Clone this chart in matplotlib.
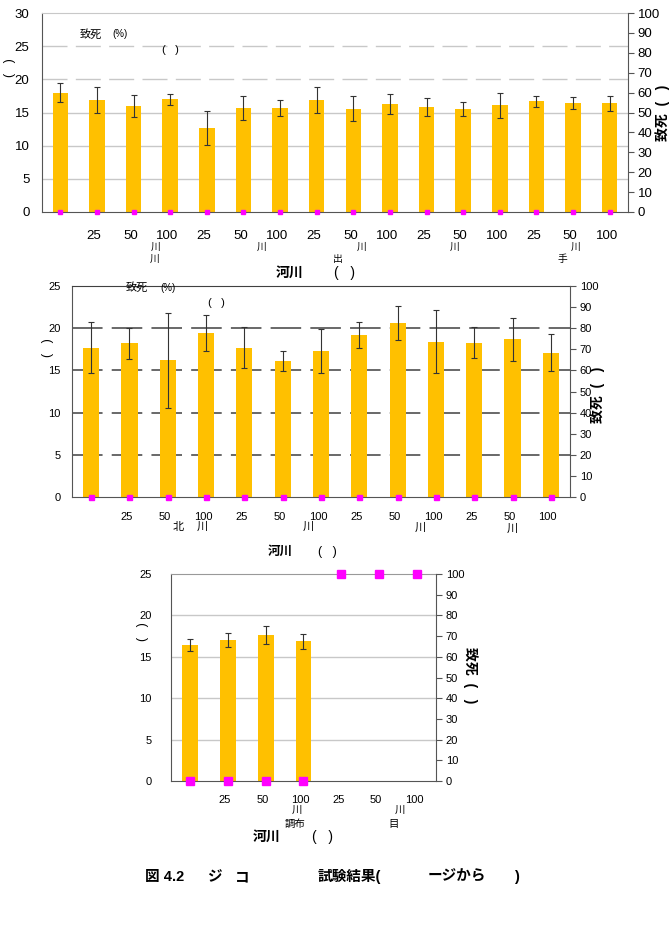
import numpy as np
import matplotlib
matplotlib.use("Agg")
import matplotlib.pyplot as plt

plt.rcParams['font.family'] = ['Liberation Sans', 'Noto Sans CJK JP', 'DejaVu Sans']

W, H = 672, 952
BAR = '#FFC000'
MAG = '#FF00FF'
nan = np.nan

# panel 1: 16 groups
p1_growth = [18.0, 16.9, 16.0, 17.0, 12.7, 15.7, 15.7, 16.9,
             15.6, 16.3, 15.8, 15.5, 16.1, 16.7, 16.5, 16.4]
p1_err = [1.4, 1.9, 1.65, 0.8, 2.6, 1.8, 1.2, 1.95,
          1.9, 1.55, 1.4, 1.05, 1.9, 0.8, 0.9, 1.15]
p1_mort = [0, 0, 0, 0, 0, 0, 0, 0, 0, 0, 0, 0, 0, 0, 0, 0]
p1_ticks = ['', '25', '50', '100', '25', '50', '100', '25', '50', '100',
            '25', '50', '100', '25', '50', '100']

# panel 2: 13 groups
p2_growth = [17.7, 18.2, 16.2, 19.4, 17.7, 16.1, 17.3, 19.2, 20.6, 18.4, 18.3, 18.7, 17.1]
p2_err = [3.0, 1.8, 5.65, 2.15, 2.4, 1.2, 2.55, 1.55, 2.0, 3.7, 1.8, 2.55, 2.2]
p2_mort = [0, 0, 0, 0, 0, 0, 0, 0, 0, 0, 0, 0, 0]
p2_ticks = ['', '25', '50', '100', '25', '50', '100', '25', '50', '100', '25', '50', '100']

# panel 3: 7 groups (last three all dead)
p3_growth = [16.4, 17.0, 17.6, 16.9, nan, nan, nan]
p3_err = [0.75, 0.85, 1.1, 0.9, nan, nan, nan]
p3_mort = [0, 0, 0, 0, 100, 100, 100]
p3_ticks = ['', '25', '50', '100', '25', '50', '100']

fig = plt.figure(figsize=(W / 100, H / 100), dpi=100)


def rect(l, t, r, b):
    return [l / W, 1 - b / H, (r - l) / W, (b - t) / H]


def put(x, y, s, **kw):
    kw.setdefault('ha', 'center')
    kw.setdefault('va', 'center')
    fig.text(x / W, 1 - y / H, s, **kw)


def panel(r, growth, err, mort, ticks, ymax, grid, top_col, fs, ms, lpad, xpad):
    ax = fig.add_axes(r)
    x = np.arange(len(growth))
    ax.bar(x, growth, width=0.42, color=BAR, zorder=2)
    ax.errorbar(x, growth, yerr=err, fmt='none', ecolor='#333333',
                elinewidth=0.8, capsize=2.5, capthick=0.8, zorder=3)
    ax.set_xlim(-0.5, len(growth) - 0.5)
    ax.set_ylim(0, ymax)
    ax.set_yticks(np.arange(0, ymax + 1, 5))
    for lv, st in grid:
        ax.axhline(lv, **st, zorder=1)
    ax.set_xticks(x - 0.08)
    ax.set_xticklabels(ticks)
    ax.tick_params(axis='x', length=0, labelsize=fs, pad=xpad)
    ax.tick_params(axis='y', length=0, labelsize=fs, pad=lpad)
    for s in ('left', 'bottom'):
        ax.spines[s].set_color('#555555')
    ax.spines['top'].set_color(top_col)
    ax.spines['right'].set_visible(False)

    ax2 = ax.twinx()
    ax2.set_ylim(0, 100)
    ax2.set_yticks(np.arange(0, 101, 10))
    ax2.plot(x, mort, 's', color=MAG, ms=ms, mec=MAG, clip_on=False, zorder=5)
    ax2.tick_params(axis='y', length=4, direction='out', labelsize=fs, pad=3, color='#555555')
    ax2.spines['right'].set_color('#555555')
    for s in ('left', 'top', 'bottom'):
        ax2.spines[s].set_visible(False)
    return ax, ax2


light = '#c8c8c8'
solid_l = dict(color=light, lw=1.0)
dash_l = dict(color=light, lw=1.0, dashes=(18, 6))
dash_d = dict(color='#404040', lw=1.1, dashes=(20, 6))

# ---- panel 1
panel(rect(42, 13, 628, 212), p1_growth, p1_err, p1_mort, p1_ticks, 30,
      [(5, solid_l), (10, solid_l), (15, solid_l), (20, dash_l), (25, dash_l)],
      light, 9.5, 3.2, 9, 13)
put(91, 34, '致死', fontsize=8)
put(120, 34, '(%)', fontsize=7)
put(170, 50, '(   )', fontsize=8)
put(10, 68, '(   )', fontsize=9, rotation=90)
put(663, 113, '致死  (   )', fontsize=10, rotation=90, fontweight='bold')
for s, x, y in [('川', 156, 247), ('川', 155, 259), ('川', 262, 247), ('出', 338, 259),
                ('川', 362, 247), ('川', 455, 247), ('手', 562, 259), ('川', 576, 247)]:
    put(x, y, s, fontsize=7)
put(290, 273, '河川', fontsize=10, fontweight='bold')
put(344, 273, '(   )', fontsize=10)

# ---- panel 2
panel(rect(72, 286, 570, 497), p2_growth, p2_err, p2_mort, p2_ticks, 25,
      [(5, dash_d), (10, dash_d), (15, dash_d), (20, dash_d)],
      '#404040', 8, 3.6, 8, 11)
put(137, 287, '致死', fontsize=8)
put(168, 288, '(%)', fontsize=7)
put(216, 303, '(   )', fontsize=8)
put(48, 348, '(   )', fontsize=9, rotation=90)
put(598, 395, '致死  (   )', fontsize=10, rotation=90, fontweight='bold')
for s, x, y in [('北', 178, 527), ('川', 202, 527), ('川', 308, 527),
                ('川', 420, 528), ('川', 512, 529)]:
    put(x, y, s, fontsize=8)
put(280, 552, '河川', fontsize=9, fontweight='bold')
put(327, 552, '(   )', fontsize=9)

# ---- panel 3
panel(rect(171, 574, 436, 781), p3_growth, p3_err, p3_mort, p3_ticks, 25,
      [(5, solid_l), (10, solid_l), (15, solid_l), (20, solid_l)],
      '#999999', 8, 5.5, 14, 10)
put(143, 632, '(   )', fontsize=9, rotation=90)
put(470, 675, '致死  (   )', fontsize=10, rotation=-90, fontweight='bold')
for s, x, y in [('川', 297, 810), ('調布', 295, 824), ('川', 400, 810), ('目', 394, 824)]:
    put(x, y, s, fontsize=7.5)
put(267, 837, '河川', fontsize=10, fontweight='bold')
put(322, 837, '(   )', fontsize=10)

# ---- caption
cap = dict(fontsize=10.5, fontweight='bold', ha='left')
put(145, 877, '図 4.2', **cap)
put(208, 877, 'ジ', **cap)
put(235, 877, 'コ', **cap)
put(318, 877, '試験結果(', **cap)
put(428, 877, 'ージから', **cap)
put(514, 877, ')', **cap)

fig.savefig('out.png', dpi=100)
